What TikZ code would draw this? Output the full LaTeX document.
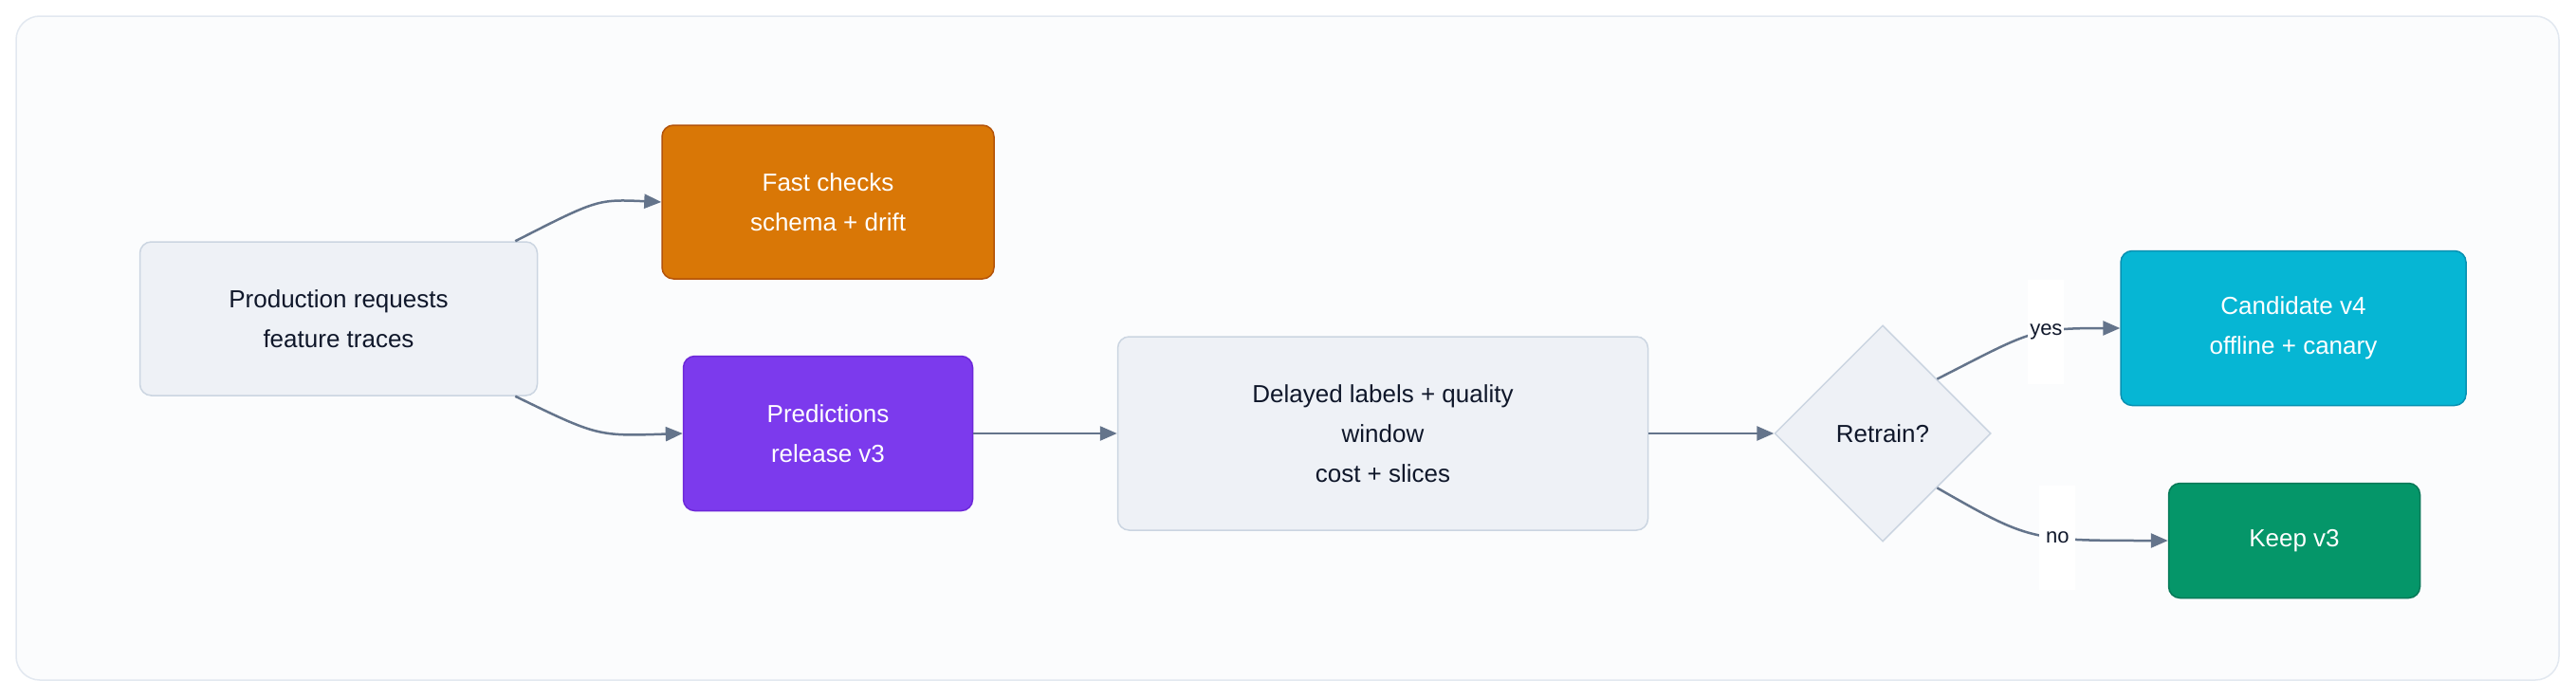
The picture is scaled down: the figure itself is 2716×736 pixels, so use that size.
\documentclass[tikz,border=0pt]{standalone}
\usepackage{fontspec}
\setmainfont{Liberation Sans}
\usetikzlibrary{arrows.meta,shapes.geometric,calc}
\definecolor{edge}{HTML}{64748B}
\definecolor{lightf}{HTML}{EEF1F6}
\definecolor{lightd}{HTML}{CBD5E1}
\definecolor{txt}{HTML}{0F172A}
\definecolor{orf}{HTML}{D97706}\definecolor{ord}{HTML}{B45309}
\definecolor{puf}{HTML}{7C3AED}\definecolor{pud}{HTML}{6D28D9}
\definecolor{cyf}{HTML}{06B6D4}\definecolor{cyd}{HTML}{0891B2}
\definecolor{grf}{HTML}{059669}\definecolor{grd}{HTML}{047857}
\definecolor{framef}{HTML}{FBFCFD}\definecolor{framed}{HTML}{E2E8F0}
\tikzset{
 box/.style={rounded corners=12pt,line width=1.5pt,align=center,font=\fontsize{26}{42}\selectfont,inner sep=0pt},
 lightbox/.style={box,fill=lightf,draw=lightd,text=txt},
 conn/.style={draw=edge,line width=2.5pt,-{Triangle[length=18pt,width=15pt]}},
 lbl/.style={fill=white,font=\fontsize{22}{26}\selectfont,text=txt,minimum width=38pt,minimum height=110pt,inner sep=0pt}
}
\begin{document}
\begin{tikzpicture}[x=1pt,y=-1pt]
\useasboundingbox (0,0) rectangle (2716,736);
\fill[white] (0,0) rectangle (2716,736);
\draw[fill=framef,draw=framed,line width=1.5pt,rounded corners=25pt] (17,17) rectangle (2698,717);
\node[lightbox,minimum width=419pt,minimum height=162pt] (prod) at (357,336) {Production requests\\feature traces};
\node[box,fill=orf,draw=ord,text=white,minimum width=350pt,minimum height=162pt] (fast) at (873,213) {Fast checks\\schema + drift};
\node[box,fill=puf,draw=pud,text=white,minimum width=305pt,minimum height=163pt] (pred) at (873,457) {Predictions\\release v3};
\node[lightbox,minimum width=559pt,minimum height=204pt] (del) at (1458,457) {Delayed labels + quality\\window\\cost + slices};
\node[diamond,fill=lightf,draw=lightd,line width=1.5pt,minimum width=228pt,minimum height=228pt,inner sep=0pt,font=\fontsize{26}{42}\selectfont,text=txt] (dec) at (1985,457) {Retrain?};
\node[box,fill=cyf,draw=cyd,text=white,minimum width=364pt,minimum height=163pt] (cand) at (2418,346) {Candidate v4\\offline + canary};
\node[box,fill=grf,draw=grd,text=white,minimum width=265pt,minimum height=121pt] (keep) at (2419,570) {Keep v3};
\draw[conn] ($(prod.north east)+(-24,0)$) .. controls (630,210) .. (fast.west);
\draw[conn] ($(prod.south east)+(-24,0)$) .. controls (630,460) .. (pred.west);
\draw[conn] (pred.east) -- (del.west);
\draw[conn] (del.east) -- (dec.west);
\draw[conn] (dec.north east) .. controls (2140,350) and (2140,346) .. node[lbl,pos=0.62]{yes} (cand.west);
\draw[conn] (dec.south east) .. controls (2140,570) and (2140,570) .. node[lbl,pos=0.62]{no} (keep.west);
\end{tikzpicture}
\end{document}
